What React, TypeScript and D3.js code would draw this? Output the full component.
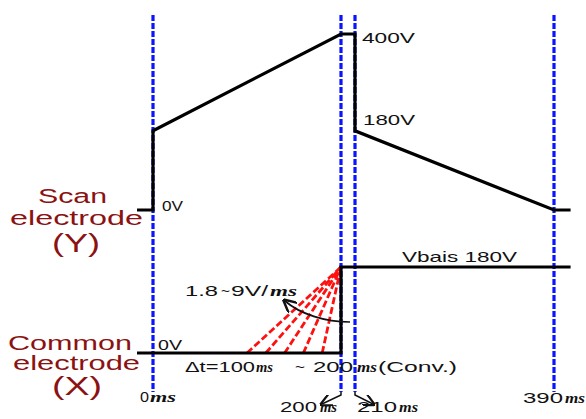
import React from "react";
import * as d3 from "d3";

// ---- data ----
const timeMarks = [0, 200, 210, 390];
const timeMarkLabels = ["0", "200", "210", "390"];
const scanTimes = [-17, 0, 0, 200, 210, 210, 390, 405];
const scanVolts = [0, 0, 180, 400, 400, 180, 0, 0];
const commonTimes = [-17, 200, 200, 405];
const commonVolts = [0, 0, 180, 180];
const rampStarts = [100, 120, 140, 160, 180];
const rampEnd = { t: 200, v: 180 };

const W = 586;
const H = 419;
const SANS = "'Liberation Sans', Arial, sans-serif";
const SERIF = "'Liberation Serif', 'Times New Roman', serif";
const DARKRED = "#8b1212";
const BLUE = "#0a14ff";

const x = d3.scaleLinear().domain([0, 200, 210, 390]).range([153, 341, 355, 554]);
const yScan = d3.scaleLinear().domain([0, 400]).range([210, 34]);
const yCom = d3.scaleLinear().domain([0, 180]).range([353, 267]);

type Piece = { s: string; x: number; len: number; ms?: boolean };

function Pieces({ y, size, pieces, fill = "#111" }: { y: number; size: number; pieces: Piece[]; fill?: string }) {
  return (
    <g>
      {pieces.map((p, i) => (
        <text
          key={i}
          x={p.x}
          y={y}
          fontFamily={p.ms ? SERIF : SANS}
          fontStyle={p.ms ? "italic" : "normal"}
          fontWeight={p.ms ? "bold" : "normal"}
          fontSize={p.ms ? size * 0.95 : size}
          textLength={p.len}
          lengthAdjust="spacingAndGlyphs"
          fill={fill}
        >
          {p.s}
        </text>
      ))}
    </g>
  );
}

export default function App() {
  const scanLine = d3
    .line<number>()
    .x((i) => x(scanTimes[i]))
    .y((i) => yScan(scanVolts[i]))(scanTimes.map((_, i) => i));
  const comLine = d3
    .line<number>()
    .x((i) => x(commonTimes[i]))
    .y((i) => yCom(commonVolts[i]))(commonTimes.map((_, i) => i));

  const ex = x(rampEnd.t);
  const ey = yCom(rampEnd.v);

  // time label layout: [numberX, numberLen, msX, msLen, baseline]
  const tLab: [number, number, number, number, number][] = [
    [140, 9, 150, 26, 402],
    [280, 37, 320, 17, 412],
    [357, 40, 399, 19, 412],
    [523, 40, 565, 20, 403],
  ];

  return (
    <svg width={W} height={H} style={{ position: "absolute", left: 0, top: 0, background: "#fff" }}>
      <defs>
        <marker id="ah" viewBox="0 0 10 10" refX="8" refY="5" markerWidth="8" markerHeight="8" orient="auto-start-reverse">
          <path d="M0,0 L10,5 L0,10" fill="none" stroke="#111" strokeWidth="1.8" />
        </marker>
      </defs>

      {/* blue dashed time markers */}
      {timeMarks.map((t, i) => (
        <line key={i} x1={x(t)} x2={x(t)} y1={15} y2={392} stroke={BLUE} strokeWidth={3.2} strokeDasharray="6,2" />
      ))}

      {/* red dashed ramps */}
      {rampStarts.map((t, i) => (
        <line key={i} x1={x(t)} y1={yCom(0)} x2={ex} y2={ey} stroke="#ff1010" strokeWidth={2.8} strokeDasharray="7,3" />
      ))}

      {/* waveforms */}
      <path d={scanLine || ""} fill="none" stroke="#000" strokeWidth={3.2} strokeLinejoin="miter" />
      <path d={comLine || ""} fill="none" stroke="#000" strokeWidth={3.2} strokeLinejoin="miter" />

      {/* curved arrow */}
      <path d="M350,322 C325,322 300,314 285,301" fill="none" stroke="#111" strokeWidth={1.7} markerEnd="url(#ah)" />

      {/* small bottom arrows */}
      <path d={`M${x(200)},392 L${x(200)},395 L${x(200) - 19},404`} fill="none" stroke="#111" strokeWidth={1.5} markerEnd="url(#ah)" />
      <path d={`M${x(210)},392 L${x(210)},395 L${x(210) + 18},404`} fill="none" stroke="#111" strokeWidth={1.5} markerEnd="url(#ah)" />

      {/* voltage labels */}
      <Pieces y={43} size={15} pieces={[{ s: "400V", x: 362, len: 53 }]} />
      <Pieces y={125} size={15} pieces={[{ s: "180V", x: 363, len: 52 }]} />
      <Pieces y={211} size={14} pieces={[{ s: "0V", x: 162, len: 21 }]} />
      <Pieces y={350} size={14} pieces={[{ s: "0V", x: 158, len: 24 }]} />
      <Pieces y={262} size={15} pieces={[{ s: "Vbais 180V", x: 402, len: 115 }]} />

      <Pieces
        y={296}
        size={15}
        pieces={[
          { s: "1.8", x: 185, len: 33 },
          { s: "~", x: 221, len: 9 },
          { s: "9V/", x: 231, len: 37 },
          { s: "ms", x: 270, len: 27, ms: true },
        ]}
      />
      <Pieces
        y={372}
        size={15}
        pieces={[
          { s: "\u0394t=100", x: 185, len: 70 },
          { s: "ms", x: 256, len: 17, ms: true },
          { s: "~", x: 295, len: 10 },
          { s: "200", x: 313, len: 40 },
          { s: "ms", x: 357, len: 20, ms: true },
          { s: "(Conv.)", x: 378, len: 79 },
        ]}
      />

      {/* time labels */}
      {timeMarkLabels.map((l, i) => (
        <Pieces
          key={i}
          y={tLab[i][4]}
          size={15}
          pieces={[
            { s: l, x: tLab[i][0], len: tLab[i][1] },
            { s: "ms", x: tLab[i][2], len: tLab[i][3], ms: true },
          ]}
        />
      ))}

      {/* electrode names */}
      <Pieces y={203} size={20} fill={DARKRED} pieces={[{ s: "Scan", x: 38, len: 69 }]} />
      <Pieces y={225} size={20} fill={DARKRED} pieces={[{ s: "electrode", x: 10, len: 133 }]} />
      <Pieces y={252} size={25} fill={DARKRED} pieces={[{ s: "(Y)", x: 52, len: 48 }]} />
      <Pieces y={350} size={20} fill={DARKRED} pieces={[{ s: "Common", x: 8, len: 124 }]} />
      <Pieces y={370} size={20} fill={DARKRED} pieces={[{ s: "electrode", x: 13, len: 127 }]} />
      <Pieces y={395} size={25} fill={DARKRED} pieces={[{ s: "(X)", x: 52, len: 50 }]} />
    </svg>
  );
}
